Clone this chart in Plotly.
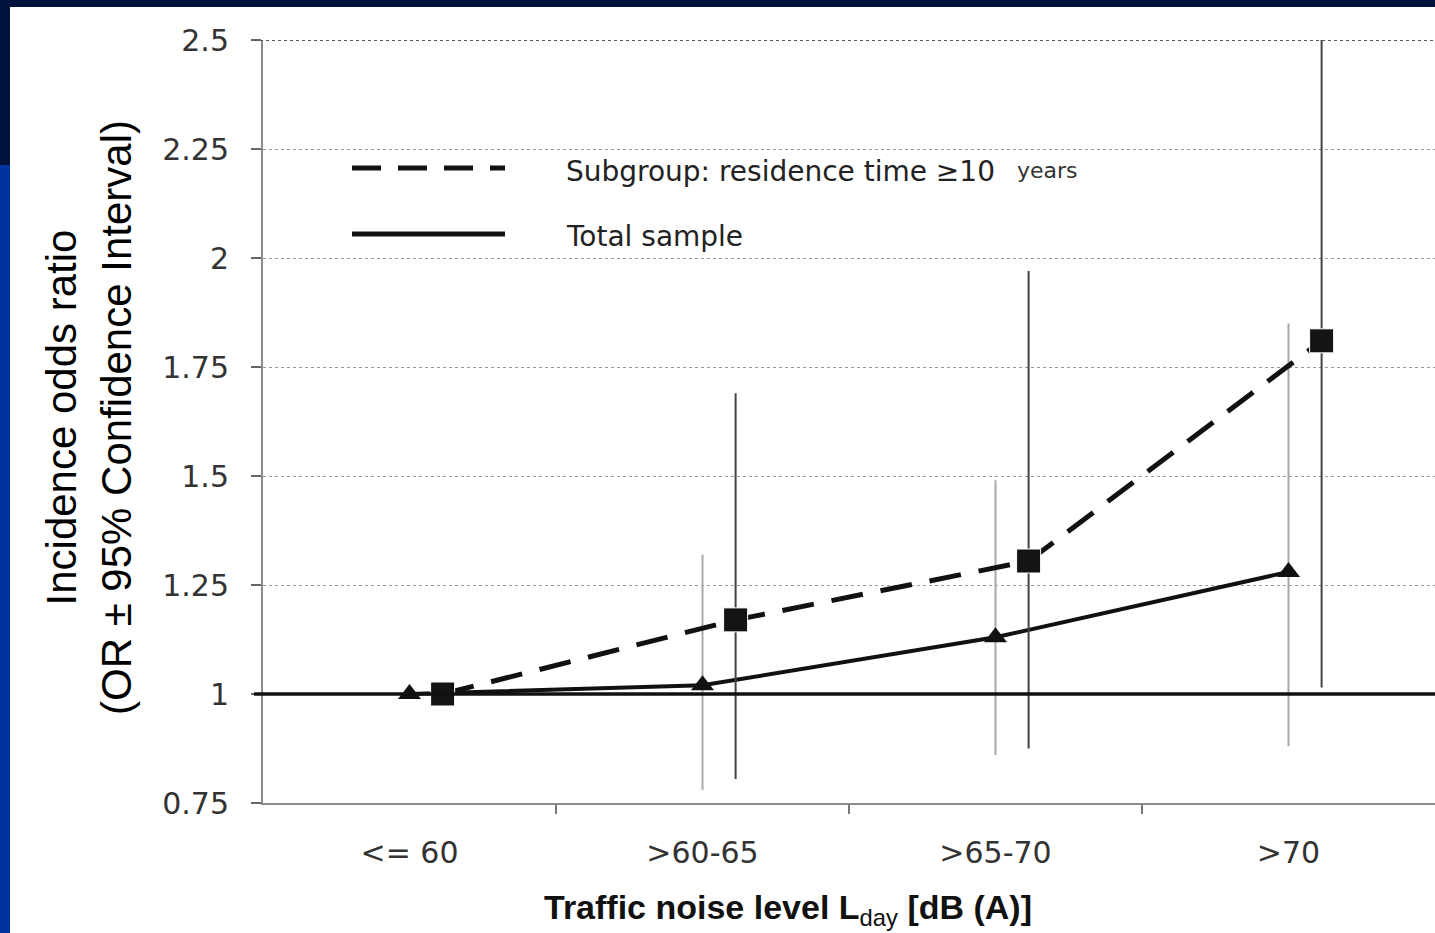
import plotly.graph_objects as go

# ---- data ----
categories = ["<= 60", ">60-65", ">65-70", ">70"]
total_or = [1.00, 1.02, 1.13, 1.28]
total_ci_low = [1.00, 0.78, 0.86, 0.88]
total_ci_high = [1.00, 1.32, 1.49, 1.85]
sub_or = [1.00, 1.17, 1.305, 1.81]
sub_ci_low = [1.00, 0.805, 0.875, 1.015]
sub_ci_high = [1.00, 1.69, 1.97, 2.52]
y_ticks = [0.75, 1.0, 1.25, 1.5, 1.75, 2.0, 2.25, 2.5]
y_ticktext = ["0.75", "1", "1.25", "1.5", "1.75", "2", "2.25", "2.5"]

# ---- style / layout constants ----
W, H = 1435, 933
L, R, T, B = 263, 0, 40, 130
PW, PH = W - L - R, H - T - B
SUB_OFFSET = 0.113


def px(xp):
    return (xp - L) / PW


def py(yp):
    return (H - B - yp) / PH


xs_total = list(range(len(categories)))
xs_sub = [i + SUB_OFFSET for i in xs_total]

fig = go.Figure()

fig.add_trace(go.Scatter(
    x=xs_total, y=total_or, mode="lines+markers", name="Total sample",
    line=dict(color="#111111", width=4),
    marker=dict(symbol="triangle-up", size=20, color="#111111"),
    error_y=dict(type="data", symmetric=False,
                 array=[h - v for h, v in zip(total_ci_high, total_or)],
                 arrayminus=[v - l for l, v in zip(total_ci_low, total_or)],
                 color="#a8a8a8", thickness=2, width=0),
    cliponaxis=False, showlegend=False,
))

fig.add_trace(go.Scatter(
    x=xs_sub, y=sub_or, mode="lines+markers", name="Subgroup",
    line=dict(color="#111111", width=5, dash="32px,18px"),
    marker=dict(symbol="square", size=24, color="#141414",
                line=dict(color="white", width=1)),
    error_y=dict(type="data", symmetric=False,
                 array=[h - v for h, v in zip(sub_ci_high, sub_or)],
                 arrayminus=[v - l for l, v in zip(sub_ci_low, sub_or)],
                 color="#444444", thickness=2, width=0),
    cliponaxis=False, showlegend=False,
))

shapes = [
    # slide background pieces
    dict(type="rect", xref="paper", yref="paper", x0=px(0), x1=px(10),
         y0=py(H), y1=py(165), fillcolor="#0033a0", line_width=0, layer="below"),
    dict(type="rect", xref="paper", yref="paper", x0=px(10), x1=1.0,
         y0=py(H), y1=py(7), fillcolor="white", line_width=0, layer="below"),
    # reference line OR = 1
    dict(type="line", xref="paper", yref="y", x0=px(254), x1=1.0, y0=1.0, y1=1.0,
         line=dict(color="#111111", width=3.5), layer="above"),
    # top border line
    dict(type="line", xref="paper", yref="y", x0=px(254), x1=1.0, y0=2.5, y1=2.5,
         line=dict(color="#555555", width=2, dash="dot"), layer="above"),
    # legend sample lines
    dict(type="line", xref="paper", yref="paper", x0=px(352), x1=px(505),
         y0=py(168), y1=py(168), line=dict(color="#111111", width=5, dash="29px,17px")),
    dict(type="line", xref="paper", yref="paper", x0=px(352), x1=px(505),
         y0=py(234), y1=py(234), line=dict(color="#111111", width=5)),
]

annotations = [
    dict(text="Subgroup: residence time \u226510", xref="paper", yref="paper",
         x=px(564), y=py(171), xanchor="left", yanchor="middle", showarrow=False,
         font=dict(family="DejaVu Sans", size=28, color="#222222")),
    dict(text="years", xref="paper", yref="paper",
         x=px(1015), y=py(170), xanchor="left", yanchor="middle", showarrow=False,
         font=dict(family="DejaVu Sans", size=22, color="#333333")),
    dict(text="Total sample", xref="paper", yref="paper",
         x=px(564), y=py(236), xanchor="left", yanchor="middle", showarrow=False,
         font=dict(family="DejaVu Sans", size=28, color="#222222")),
    dict(text="Incidence odds ratio<br>(OR \u00b1 95% Confidence Interval)",
         xref="paper", yref="paper", x=px(89), y=py(418), xanchor="center",
         yanchor="middle", textangle=-90, showarrow=False,
         font=dict(family="Liberation Sans, Arial", size=42, color="#000000")),
    dict(text="<b>Traffic noise level L</b><sub>day</sub><b> [dB (A)]</b>",
         xref="paper", yref="paper", x=px(788), y=py(910), xanchor="center",
         yanchor="middle", showarrow=False,
         font=dict(family="Liberation Sans, Arial", size=34, color="#111111")),
]

fig.update_layout(
    width=W, height=H,
    margin=dict(l=L, r=R, t=T, b=B, pad=0),
    paper_bgcolor="#00133d", plot_bgcolor="white",
    shapes=shapes, annotations=annotations,
    showlegend=False,
)

fig.update_xaxes(
    range=[-0.5, 3.5], tickvals=xs_total, ticktext=categories,
    showgrid=False, zeroline=False, showline=True, linecolor="#8a8a8a", linewidth=2,
    ticks="", ticklabelstandoff=22,
    tickfont=dict(family="DejaVu Sans", size=30, color="#333333"),
    minor=dict(tickvals=[0.5, 1.5, 2.5], ticks="outside", ticklen=9,
               tickcolor="#777777", tickwidth=2, showgrid=False),
)

fig.update_yaxes(
    range=[0.75, 2.5], tickvals=y_ticks, ticktext=y_ticktext,
    showgrid=True, gridcolor="#9a9a9a", gridwidth=1, griddash="dot",
    zeroline=False, showline=True, linecolor="#8a8a8a", linewidth=2,
    ticks="outside", ticklen=10, tickcolor="#666666", tickwidth=2,
    ticklabelstandoff=16,
    tickfont=dict(family="DejaVu Sans", size=30, color="#333333"),
)

fig.write_html("out.html")
